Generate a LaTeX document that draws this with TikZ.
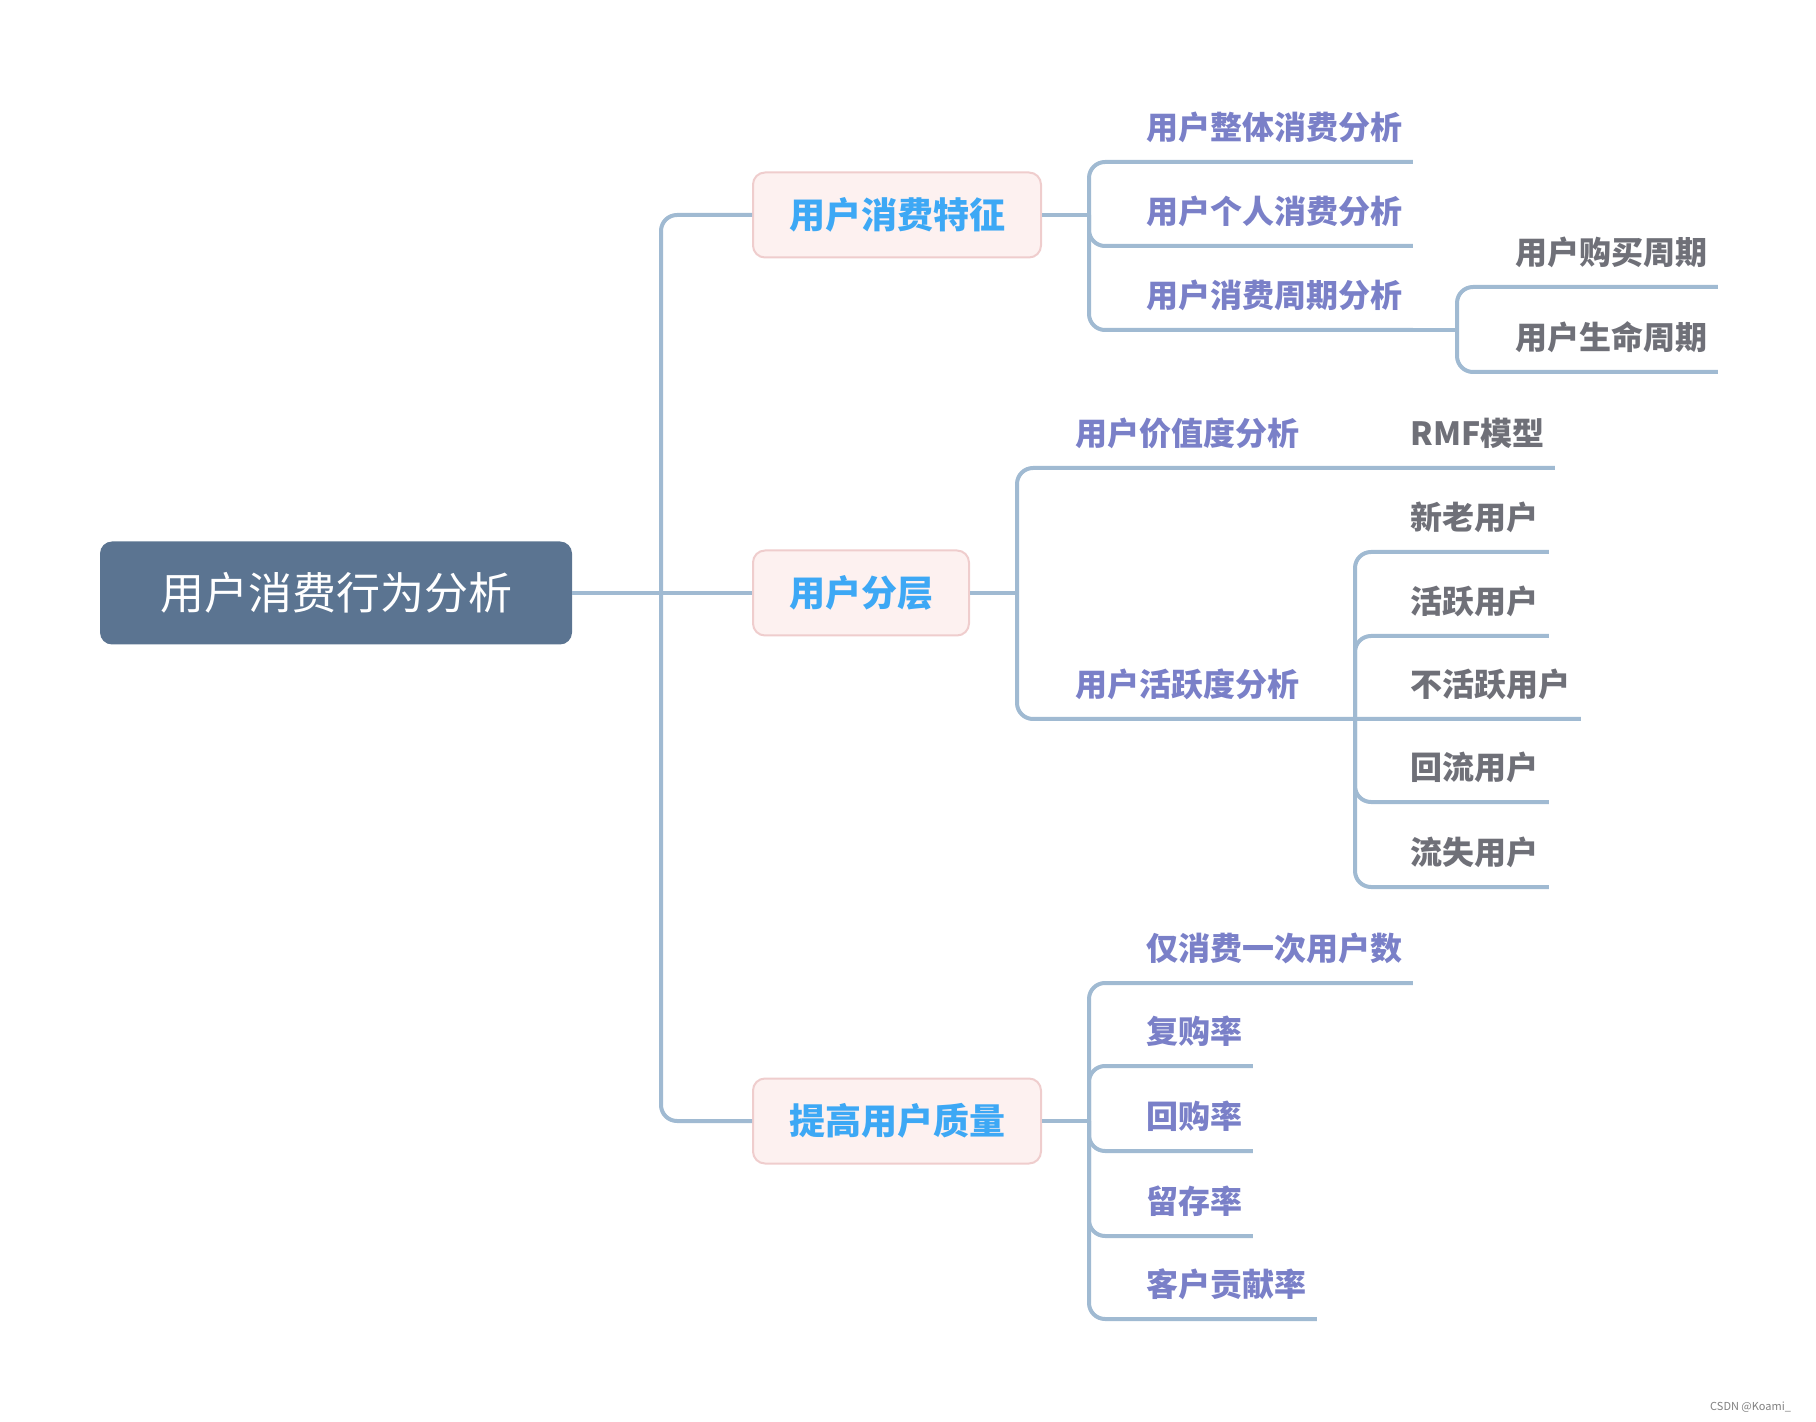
\documentclass[tikz,border=0pt]{standalone}
\usepackage{fontspec}
\newfontfamily\cjk{Noto Sans CJK SC}
\definecolor{rootblue}{HTML}{5B7491}
\definecolor{lineblue}{HTML}{A0BAD2}
\definecolor{topicfill}{HTML}{FDF1F0}
\definecolor{topicdraw}{HTML}{EFCDCD}
\definecolor{topictext}{HTML}{3DA8F5}
\definecolor{subtext}{HTML}{7A80C8}
\definecolor{leaftext}{HTML}{6F7078}

\begin{document}
\begin{tikzpicture}[x=0.5pt,y=-0.5pt,
  rootbox/.style={fill=rootblue, text=white, rounded corners=6pt,
    minimum width=236pt, minimum height=51.5pt,
    font=\cjk\fontsize{22}{27}\selectfont},
  topic/.style={fill=topicfill, draw=topicdraw, line width=1pt, rounded corners=6pt,
    inner xsep=18pt, minimum height=42.5pt, text=topictext,
    font=\cjk\bfseries\fontsize{18}{22}\selectfont},
  sub/.style={anchor=south west, inner xsep=5pt, inner ysep=11pt,
    text height=12pt, text depth=0pt, text=subtext,
    font=\cjk\bfseries\fontsize{16}{19}\selectfont},
  leaf/.style={sub, text=leaftext},
  branch/.style={draw=lineblue, line width=2pt, rounded corners=8pt}]
  \useasboundingbox (0,0) rectangle (1816,1422);
  % main topics
  \node[rootbox] (root) at (336,593) {用户消费行为分析};
  \node[topic] (feat) at (897,215) {用户消费特征};
  \node[topic] (layer) at (861,593) {用户分层};
  \node[topic] (qual) at (897,1121) {提高用户质量};
  % junctions
  \coordinate (jt) at (661,593);
  \coordinate (j1) at (1089,215);
  \coordinate (j2) at (1017,593);
  \coordinate (j3) at (1089,1121);
  \coordinate (j13) at (1457,330);
  \coordinate (j22) at (1355,719);
  % subtopics
  \node[sub] (c11) at (1136,162) {用户整体消费分析};
  \node[sub] (c12) at (1136,246) {用户个人消费分析};
  \node[sub] (c13) at (1136,330) {用户消费周期分析};
  \node[leaf] (g1) at (1505,287) {用户购买周期};
  \node[leaf] (g2) at (1505,372) {用户生命周期};
  \node[sub] (c21) at (1065,468) {用户价值度分析};
  \node[sub] (c22) at (1065,719) {用户活跃度分析};
  \node[leaf] (rmf) at (1400,468) {RMF模型};
  \node[leaf] (a1) at (1400,552) {新老用户};
  \node[leaf] (a2) at (1400,636) {活跃用户};
  \node[leaf] (a3) at (1400,719) {不活跃用户};
  \node[leaf] (a4) at (1400,802) {回流用户};
  \node[leaf] (a5) at (1400,887) {流失用户};
  \node[sub] (c31) at (1136,983) {仅消费一次用户数};
  \node[sub] (c32) at (1136,1066) {复购率};
  \node[sub] (c33) at (1136,1151) {回购率};
  \node[sub] (c34) at (1136,1236) {留存率};
  \node[sub] (c35) at (1136,1319) {客户贡献率};
  % connectors
  \draw[branch] (root.east) -- (layer.west);
  \draw[branch] (jt) |- (feat.west);
  \draw[branch] (jt) |- (qual.west);
  \draw[branch] (feat.east) -- (j1);
  \foreach \c in {c11,c12,c13}
    \draw[branch] (j1) |- (\c.south east);
  \draw[branch] (c13.south east) -- (j13);
  \foreach \g in {g1,g2}
    \draw[branch] (j13) |- (\g.south east);
  \draw[branch] (layer.east) -- (j2);
  \draw[branch] (j2) |- (c21.south east) -- (rmf.south east);
  \draw[branch] (j2) |- (c22.south east) -- (j22) -- (a3.south east);
  \foreach \a in {a1,a2,a4,a5}
    \draw[branch] (j22) |- (\a.south east);
  \draw[branch] (qual.east) -- (j3);
  \foreach \c in {c31,c32,c33,c34,c35}
    \draw[branch] (j3) |- (\c.south east);
  \node[anchor=east, text=gray, font=\cjk\fontsize{5.5}{7}\selectfont] (mark) at (1798,1407) {CSDN @Koami\_};
\end{tikzpicture}
\end{document}
